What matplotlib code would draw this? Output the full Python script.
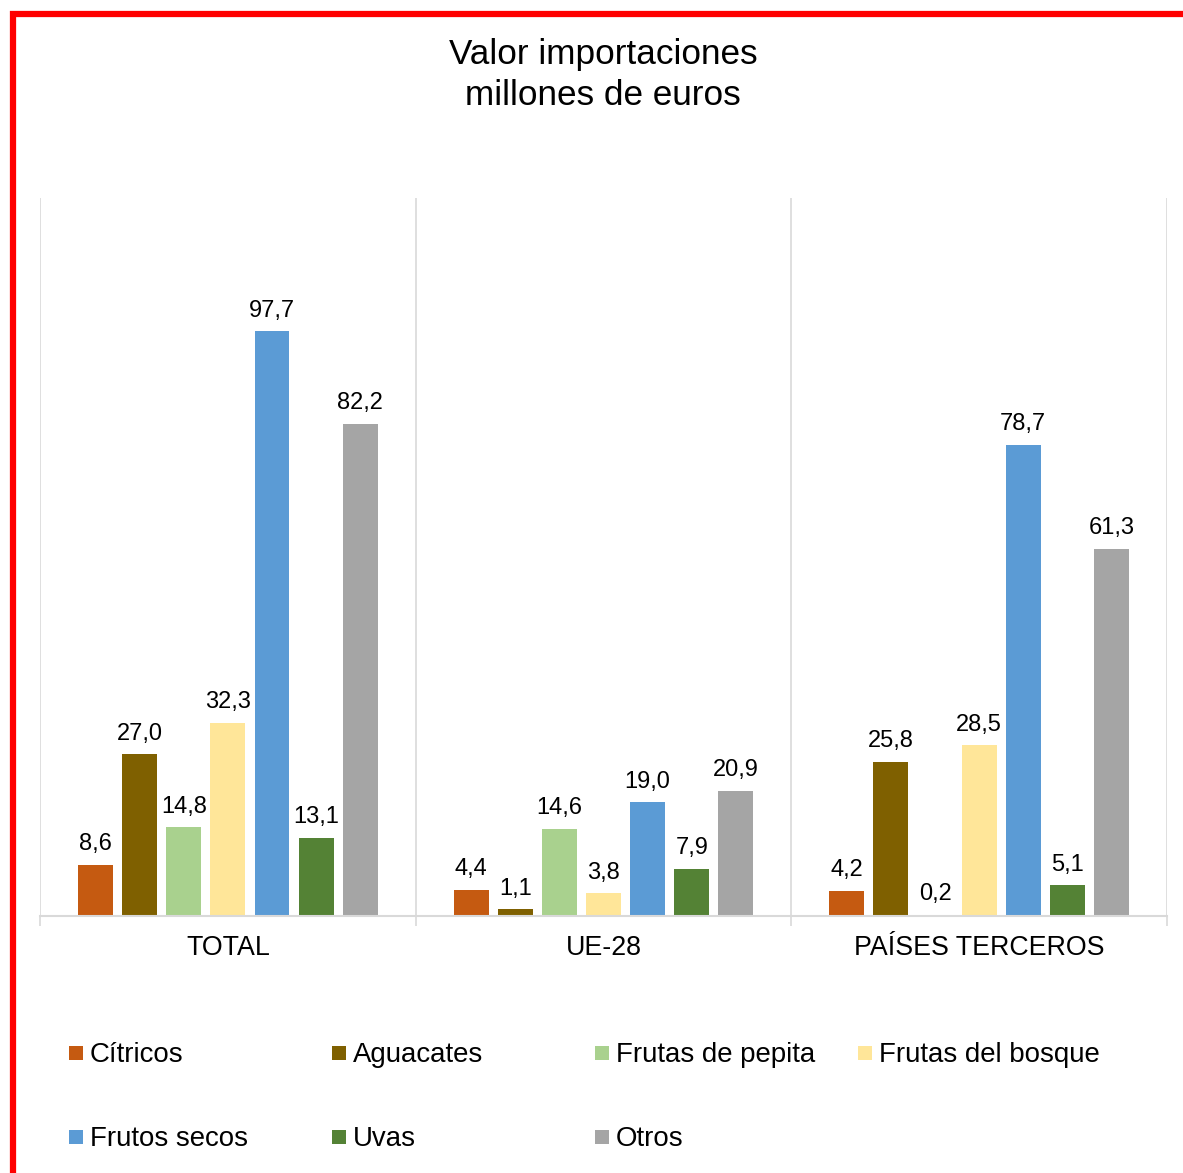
import matplotlib.pyplot as plt
from matplotlib.patches import Rectangle
from numpy import arange

plt.rcParams['font.family'] = ['Liberation Sans', 'DejaVu Sans']

groups = ['TOTAL', 'UE-28', 'PAÍSES TERCEROS']
series = ['Cítricos', 'Aguacates', 'Frutas de pepita', 'Frutas del bosque',
          'Frutos secos', 'Uvas', 'Otros']
colors = ['#C55A11', '#7F6000', '#A9D18E', '#FFE699', '#5B9BD5', '#548235', '#A5A5A5']

# millones de euros, por grupo (TOTAL, UE-28, PAÍSES TERCEROS)
citricos = [8.6, 4.4, 4.2]
aguacates = [27.0, 1.1, 25.8]
pepita = [14.8, 14.6, 0.2]
bosque = [32.3, 3.8, 28.5]
frutos_secos = [97.7, 19.0, 78.7]
uvas = [13.1, 7.9, 5.1]
otros = [82.2, 20.9, 61.3]
values = [citricos, aguacates, pepita, bosque, frutos_secos, uvas, otros]

W, H = 1183, 1173
fig = plt.figure(figsize=(W / 100, H / 100), dpi=100)
ax = fig.add_axes([40 / W, 1 - 916 / H, (1167 - 40) / W, (916 - 198) / H])

x = arange(len(groups))
step = 0.1175
width = 0.093
for j, (name, vals) in enumerate(zip(series, values)):
    bars = ax.bar(x + (j - 3) * step, vals, width, color=colors[j], label=name, zorder=3)
    ax.bar_label(bars, labels=[f'{v:.1f}'.replace('.', ',') for v in vals],
                 padding=7, fontsize=17, color='black')

ax.set_xlim(-0.5, len(groups) - 0.5)
ax.set_ylim(0, 120)
ax.set_yticks([])
for s in ['top', 'right', 'left']:
    ax.spines[s].set_visible(False)
ax.spines['bottom'].set_color('#D9D9D9')
ax.spines['bottom'].set_linewidth(1.5)
ax.spines['bottom'].set_zorder(4)

# separators between groups
ax.set_xticks(arange(-0.5, len(groups)), minor=True)
ax.tick_params(axis='x', which='minor', length=7, width=1.2, color='#D9D9D9')
ax.grid(axis='x', which='minor', color='#D9D9D9', linewidth=1.2, zorder=0)
ax.set_xticks(x, groups)
ax.tick_params(axis='x', which='major', length=0, pad=14, labelsize=19.3)

fig.text(603 / W, 1 - 75 / H, 'Valor importaciones\nmillones de euros',
         ha='center', va='center', fontsize=25.3, linespacing=1.3)

# legend, filled row by row
for i, name in enumerate(series):
    row, col = divmod(i, 4)
    lx = 69 + col * 263
    ly = 1053 + row * 84
    fig.patches.append(Rectangle((lx / W, 1 - (ly + 7) / H), 14 / W, 14 / H,
                                 transform=fig.transFigure, facecolor=colors[i],
                                 edgecolor='none'))
    fig.text((lx + 21) / W, 1 - (ly + 2) / H, name, ha='left', va='center', fontsize=19.9)

# red frame
fig.patches.append(Rectangle((12.5 / W, -0.05), 1.2, 1 - 13.5 / H + 0.05,
                             transform=fig.transFigure, fill=False,
                             edgecolor='#FF0000', linewidth=4.5))

fig.savefig('out.png', dpi=100)
